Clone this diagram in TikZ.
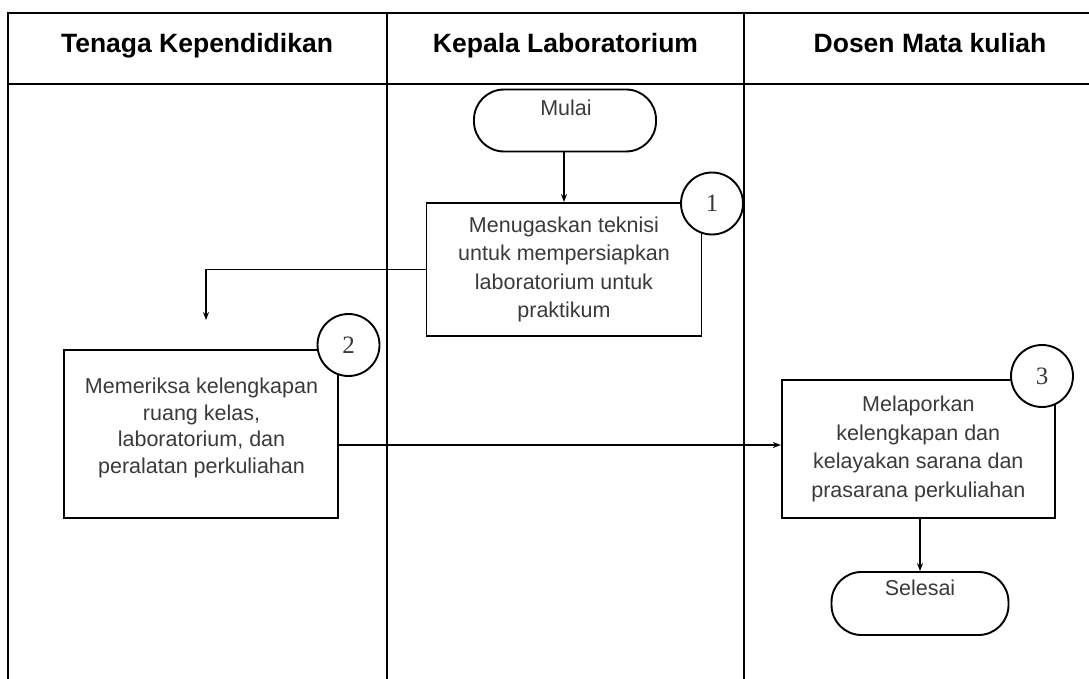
\documentclass[tikz,border=0pt]{standalone}
\usepackage{fontspec}
\setmainfont{Liberation Sans}
\newfontfamily\numfont{Liberation Serif}
\usetikzlibrary{arrows.meta}
\definecolor{txtgray}{HTML}{3A3A3A}
\tikzset{
  tbl/.style={line width=2.4pt, black},
  box/.style={draw, line width=1.9pt, rectangle, inner sep=0pt, text=txtgray,
    font=\fontsize{21.5}{28.5}\selectfont, align=center},
  term/.style={draw, line width=1.9pt, rectangle, rounded corners=30pt, inner sep=0pt},
  termtxt/.style={text=txtgray, font=\fontsize{21.5}{25}\selectfont, inner sep=0pt},
  numc/.style={draw, circle, line width=1.9pt, fill=white, minimum size=62pt, inner sep=0pt,
    text=txtgray, font=\numfont\fontsize{25}{25}\selectfont},
  hdr/.style={font=\bfseries\fontsize{26.5}{26.5}\selectfont, anchor=base, inner sep=0pt},
  arr/.style={line width=1.7pt, -{Stealth[length=8pt,width=6pt]}},
}
\begin{document}
\begin{tikzpicture}[x=1pt,y=-1pt]
\useasboundingbox (0,0) rectangle (1089,679);
\begin{scope}
\clip (0,0) rectangle (1089,679);
% table
\draw[tbl] (8,679) -- (8,13) -- (1100,13);
\draw[tbl] (8,84) -- (1100,84);
\draw[tbl] (387,13) -- (387,690);
\draw[tbl] (744,13) -- (744,690);
\end{scope}
\node[hdr] (h1) at (197,53) {Tenaga Kependidikan};
\node[hdr] (h2) at (565.5,53) {Kepala Laboratorium};
\node[hdr] (h3) at (930,53) {Dosen Mata kuliah};

% start
\node[term, minimum width=182pt, minimum height=62pt] (mulai) at (565,120.5) {};
\node[termtxt] (mulaitxt) at (566,108) {Mulai};

% box 1
\node[box, minimum width=275pt, minimum height=133pt] (b1) at (564,269.5)
  {Menugaskan teknisi\\untuk mempersiapkan\\laboratorium untuk\\praktikum};
\node[numc] (n1) at (712,203.5) {1};

% box 2
\node[box, minimum width=274pt, minimum height=168pt] (b2) at (201.3,434) {};
\node[box, draw=none, font=\fontsize{21.5}{26.5}\selectfont] (b2txt) at (201.5,428)
  {Memeriksa kelengkapan\\ruang kelas,\\laboratorium, dan\\peralatan perkuliahan};
\node[numc] (n2) at (348.5,345) {2};

% box 3
\node[box, minimum width=273pt, minimum height=138pt] (b3) at (918.3,449)
  {Melaporkan\\kelengkapan dan\\kelayakan sarana dan\\prasarana perkuliahan};
\node[numc] (n3) at (1042,376) {3};

% end
\node[term, minimum width=177pt, minimum height=63pt] (sel) at (920,603.5) {};
\node[termtxt] (seltxt) at (920,588) {Selesai};

% connectors
\coordinate (c2) at (206,320);
\coordinate (yl) at (0,445);
\draw[arr] (mulai.south -| b1.north) -- (b1.north);
\draw[arr] (b1.west) -| (c2);
\draw[arr] (b2.east |- yl) -- (b3.west |- yl);
\draw[arr] (b3.south -| sel.north) -- (sel.north);
\end{tikzpicture}
\end{document}
